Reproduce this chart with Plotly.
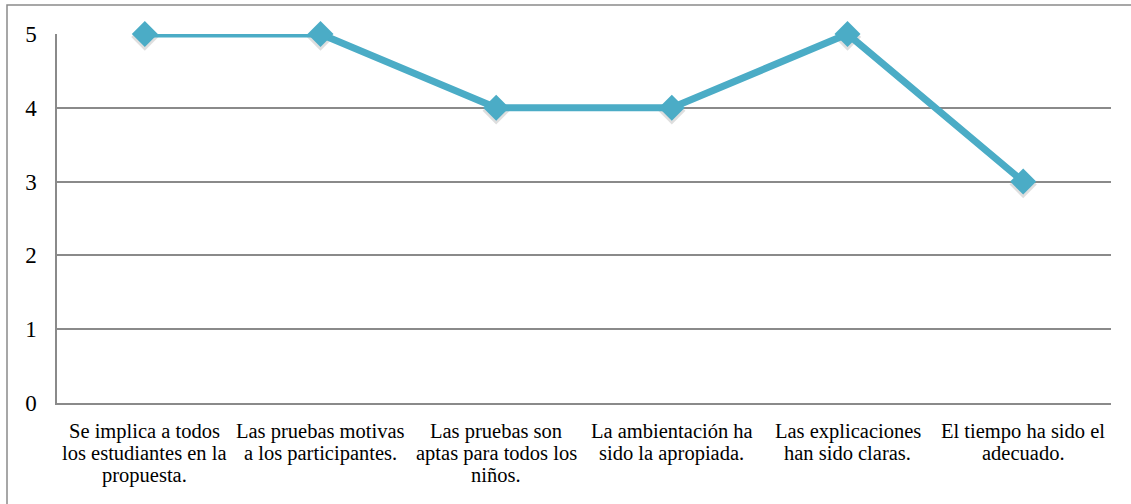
import plotly.graph_objects as go

categories = [
    "Se implica a todos<br>los estudiantes en la<br>propuesta.",
    "Las pruebas motivas<br>a los participantes.",
    "Las pruebas son<br>aptas para todos los<br>niños.",
    "La ambientación ha<br>sido la apropiada.",
    "Las explicaciones<br>han sido claras.",
    "El tiempo ha sido el<br>adecuado.",
]
values = [5, 5, 4, 4, 5, 3]
y_ticks = [0, 1, 2, 3, 4, 5]

W, H = 1131, 504
L, R, T, B = 57, 20, 34, 101
pw, ph = W - L - R, H - T - B
FONT = "'Times New Roman', 'Liberation Serif', 'DejaVu Serif', serif"
xs = list(range(len(categories)))
shadow_shift = 3 * 5 / ph  # ~3px downward, in data units
LINE_GAP = 22
FIRST_LINE = 28

fig = go.Figure()
# invisible trace keeps the base axis (grid, ticks) drawn
fig.add_trace(go.Scatter(
    x=xs, y=values, mode="markers", yaxis="y",
    marker=dict(size=1, opacity=0), showlegend=False, hoverinfo="skip",
))
# soft shadow under the diamonds (slightly shifted overlay axis)
fig.add_trace(go.Scatter(
    x=xs, y=values, mode="markers", yaxis="y2",
    marker=dict(symbol="diamond", size=21, color="rgba(0,0,0,0.13)"),
    cliponaxis=False, showlegend=False, hoverinfo="skip",
))
fig.add_trace(go.Scatter(
    x=xs, y=values, mode="lines+markers", yaxis="y3",
    line=dict(color="#4BACC6", width=7),
    marker=dict(symbol="diamond", size=20, color="#4BACC6"),
    cliponaxis=False, showlegend=False,
))

# category labels, one annotation per text line (tight Office-like line spacing)
annotations = []
for xi, label in zip(xs, categories):
    for li, line in enumerate(label.split("<br>")):
        annotations.append(dict(
            x=xi, xref="x", y=0, yref="paper", text=line, showarrow=False,
            xanchor="center", yanchor="middle",
            yshift=-(FIRST_LINE + li * LINE_GAP),
            font=dict(size=20.5, family=FONT, color="black"),
        ))

fig.update_layout(
    width=W, height=H,
    margin=dict(l=L, r=R, t=T, b=B),
    paper_bgcolor="white", plot_bgcolor="white",
    font=dict(family=FONT, color="black"),
    xaxis=dict(
        range=[-0.5, len(categories) - 0.5],
        tickvals=xs, showticklabels=False,
        showgrid=False, zeroline=False, showline=True, linecolor="#8a8a8a", linewidth=1.5,
        ticks="",
    ),
    yaxis=dict(
        range=[0, 5], tickvals=y_ticks,
        showgrid=True, gridcolor="#8a8a8a", gridwidth=1.5,
        zeroline=False, showline=True, linecolor="#8a8a8a", linewidth=1.5,
        ticks="", tickfont=dict(size=23, family=FONT), ticklabelstandoff=14,
    ),
    yaxis2=dict(range=[shadow_shift, 5 + shadow_shift], overlaying="y", visible=False),
    yaxis3=dict(range=[0, 5], overlaying="y", visible=False),
    annotations=annotations,
    shapes=[dict(
        type="rect", xref="paper", yref="paper",
        x0=(7 - L) / pw, x1=(W + 10 - L) / pw,
        y0=-1, y1=1 + (T - 5) / ph,
        line=dict(color="#8a8a8a", width=1.5), layer="below",
    )],
)

fig.write_html("out.html")
